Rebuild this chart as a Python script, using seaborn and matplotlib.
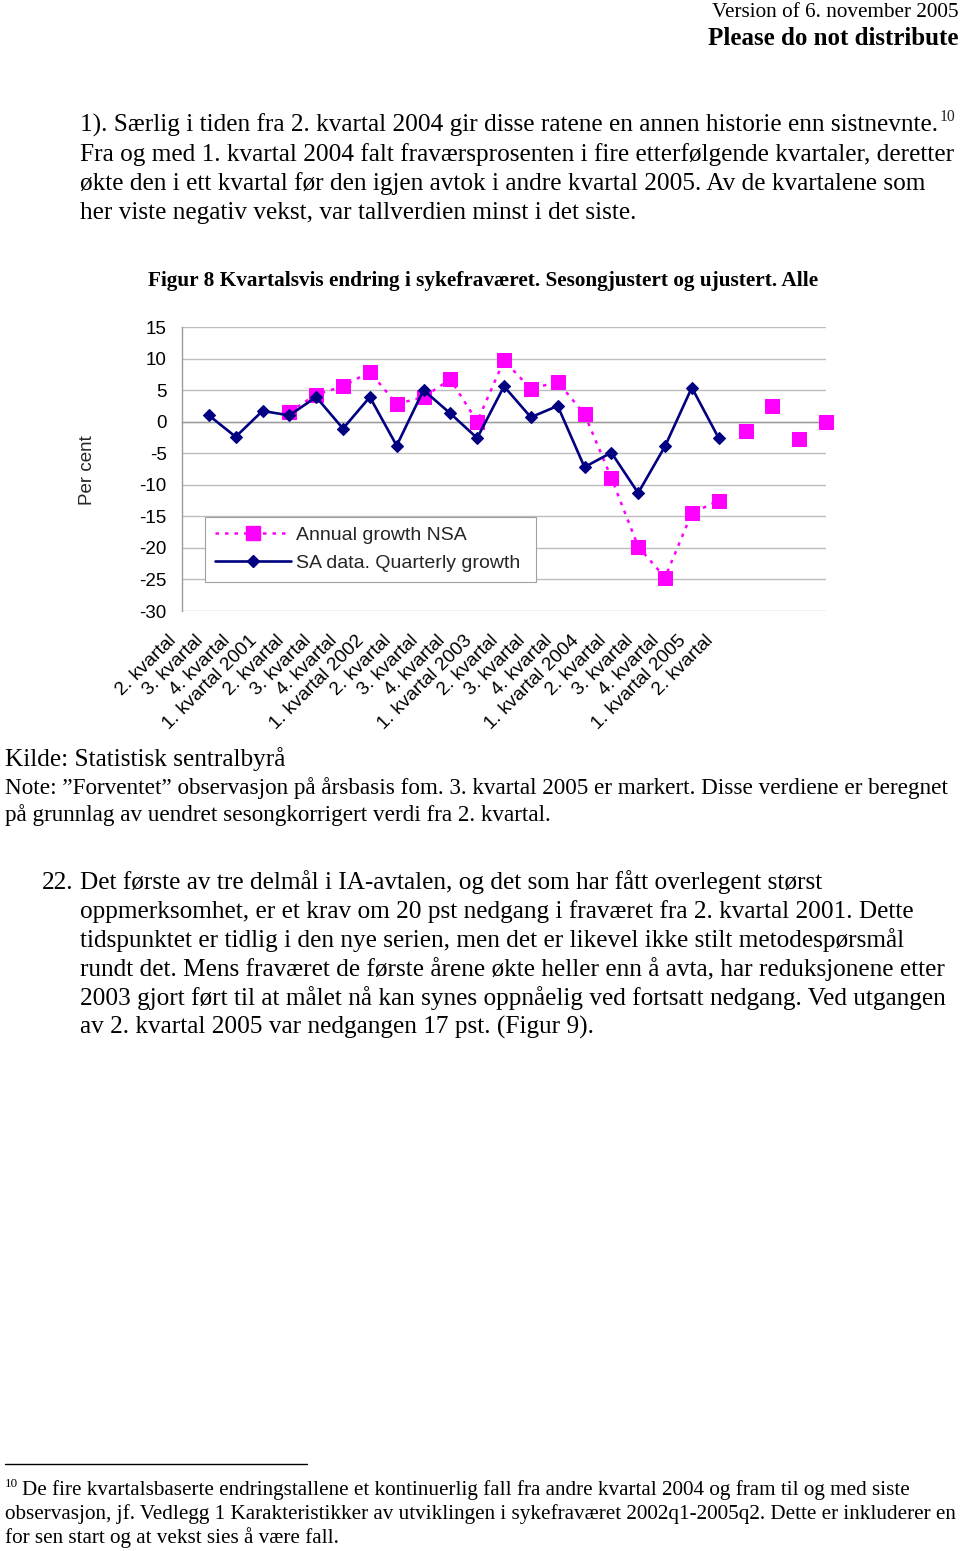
import numpy as np
import pandas as pd
import matplotlib
matplotlib.use("Agg")
import matplotlib.pyplot as plt
import matplotlib.transforms as mtransforms
from matplotlib.lines import Line2D
import seaborn as sns

# ---------------- data ----------------
category_labels = [
    "2. kvartal", "3. kvartal", "4. kvartal", "1. kvartal 2001",
    "2. kvartal", "3. kvartal", "4. kvartal", "1. kvartal 2002",
    "2. kvartal", "3. kvartal", "4. kvartal", "1. kvartal 2003",
    "2. kvartal", "3. kvartal", "4. kvartal", "1. kvartal 2004",
    "2. kvartal", "3. kvartal", "4. kvartal", "1. kvartal 2005",
    "2. kvartal", "", "", "", "",
]
sa_positions = list(range(1, 21))
sa_values = [1.0, -2.4, 1.7, 1.0, 3.9, -1.1, 3.9, -3.8, 5.0, 1.3,
             -2.6, 5.6, 0.7, 2.5, -7.2, -4.9, -11.3, -3.9, 5.4, -2.6]
nsa_positions = list(range(4, 21))
nsa_values = [1.5, 4.3, 5.6, 7.9, 2.8, 3.9, 6.7, 0.0, 9.7, 5.2,
              6.3, 1.2, -8.9, -19.8, -24.7, -14.5, -12.5]
expected_positions = [21, 22, 23, 24]
expected_values = [-1.4, 2.5, -2.7, 0.0]
y_ticks = [-30, -25, -20, -15, -10, -5, 0, 5, 10, 15]
legend_labels = ["Annual growth NSA", "SA data. Quarterly growth"]

PINK = "#FF00FF"
NAVY = "#000080"
GRID = "#BDBDBD"

# ---------------- figure ----------------
sns.set_style("white")
plt.rcParams["font.family"] = ["Liberation Serif", "DejaVu Serif"]
plt.rcParams["axes.unicode_minus"] = False
SERIF = ["Liberation Serif", "DejaVu Serif"]
SANS = ["Liberation Sans", "DejaVu Sans"]

W, H = 960, 1551
fig = plt.figure(figsize=(W / 100, H / 100), dpi=100)
fig.patch.set_facecolor("white")
renderer = fig.canvas.get_renderer()


def fit(s, target, weight="normal", family=SERIF):
    t = fig.text(0, 0, s, fontsize=10, fontweight=weight, family=family)
    w = t.get_window_extent(renderer).width
    t.remove()
    return 10 * target / w


def put(x, y, s, size, ha="left", weight="normal", family=SERIF):
    return fig.text(x / W, 1 - y / H, s, fontsize=size, ha=ha, va="baseline",
                    fontweight=weight, family=family, color="black")


# header
put(959, 17, "Version of 6. november 2005", fit("Version of 6. november 2005", 246), ha="right")
put(959, 45, "Please do not distribute",
    fit("Please do not distribute", 251, weight="bold"), ha="right", weight="bold")

body = fit("Fra og med 1. kvartal 2004 falt fraværsprosenten i fire etterfølgende kvartaler, deretter", 875)

para1 = [
    "1). Særlig i tiden fra 2. kvartal 2004 gir disse ratene en annen historie enn sistnevnte.",
    "Fra og med 1. kvartal 2004 falt fraværsprosenten i fire etterfølgende kvartaler, deretter",
    "økte den i ett kvartal før den igjen avtok i andre kvartal 2005. Av de kvartalene som",
    "her viste negativ vekst, var tallverdien minst i det siste.",
]
for i, line in enumerate(para1):
    t = put(80, 132 + 29 * i, line, body)
    if i == 0:
        x_end = t.get_window_extent(renderer).x1
        fig.text((x_end + 2) / W, 1 - 121 / H, "10", fontsize=body * 0.62,
                 va="baseline", family=SERIF)

title = "Figur 8 Kvartalsvis endring i sykefraværet. Sesongjustert og ujustert. Alle"
put(148, 286, title, fit(title, 676, weight="bold"), weight="bold")

note1 = "Note: ”Forventet” observasjon på årsbasis fom. 3. kvartal 2005 er markert. Disse verdiene er beregnet"
note_size = min(body, fit(note1, 943))
put(5, 766, "Kilde: Statistisk sentralbyrå", body)
put(5, 794, note1, note_size)
put(5, 821, "på grunnlag av uendret sesongkorrigert verdi fra 2. kvartal.", note_size)

put(42, 889, "22.", body)
para2 = [
    "Det første av tre delmål i IA-avtalen, og det som har fått overlegent størst",
    "oppmerksomhet, er et krav om 20 pst nedgang i fraværet fra 2. kvartal 2001. Dette",
    "tidspunktet er tidlig i den nye serien, men det er likevel ikke stilt metodespørsmål",
    "rundt det. Mens fraværet de første årene økte heller enn å avta, har reduksjonene etter",
    "2003 gjort ført til at målet nå kan synes oppnåelig ved fortsatt nedgang. Ved utgangen",
    "av 2. kvartal 2005 var nedgangen 17 pst. (Figur 9).",
]
for i, line in enumerate(para2):
    put(80, 889 + 29 * i, line, body)

# footnote
fig.add_artist(Line2D([5 / W, 307 / W], [1 - 1464 / H, 1 - 1464 / H], color="black", lw=1))
foot = fit("observasjon, jf. Vedlegg 1 Karakteristikker av utviklingen i sykefraværet 2002q1-2005q2. Dette er inkluderer en", 950)
put(5, 1487, "10", foot * 0.62)
put(22, 1495, "De fire kvartalsbaserte endringstallene et kontinuerlig fall fra andre kvartal 2004 og fram til og med siste", foot)
put(5, 1519, "observasjon, jf. Vedlegg 1 Karakteristikker av utviklingen i sykefraværet 2002q1-2005q2. Dette er inkluderer en", foot)
put(5, 1543, "for sen start og at vekst sies å være fall.", foot)

# ---------------- chart ----------------
ax = fig.add_axes([182 / W, 1 - 611 / H, 644 / W, 284 / H])
ax.set_facecolor("white")

df_sa = pd.DataFrame({"pos": sa_positions, "value": sa_values})
df_nsa = pd.DataFrame({"pos": nsa_positions, "value": nsa_values})
df_exp = pd.DataFrame({"pos": expected_positions, "value": expected_values})

NSA_DASH = (0, (1.4, 2.4))
sns.lineplot(data=df_nsa, x="pos", y="value", ax=ax, color=PINK, lw=1.8,
             linestyle=NSA_DASH, marker="s", markersize=9.4,
             markeredgecolor=PINK, markerfacecolor=PINK, zorder=3)
sns.lineplot(data=df_exp, x="pos", y="value", ax=ax, color=PINK, linestyle="none",
             marker="s", markersize=9.4, markeredgecolor=PINK,
             markerfacecolor=PINK, zorder=3, clip_on=False)
sns.lineplot(data=df_sa, x="pos", y="value", ax=ax, color=NAVY, lw=1.9,
             marker="D", markersize=6.6, markeredgecolor=NAVY,
             markerfacecolor=NAVY, markeredgewidth=0.8, zorder=4)

ax.set_xlim(0, len(category_labels) - 1)
ax.set_ylim(-30, 15)
ax.set_yticks(y_ticks)
ax.set_yticklabels([str(v) for v in y_ticks], family=SANS, fontsize=13.5)
ax.yaxis.grid(True, color=GRID, lw=1)
ax.xaxis.grid(False)
ax.set_axisbelow(True)
for s in ["top", "right"]:
    ax.spines[s].set_visible(False)
ax.spines["left"].set_color("#9a9a9a")
ax.spines["left"].set_linewidth(1)
ax.spines["bottom"].set_position(("data", 0))
ax.spines["bottom"].set_color("#9a9a9a")
ax.spines["bottom"].set_linewidth(1)
ax.set_xticks(range(len(category_labels)))
ax.tick_params(axis="x", direction="inout", length=6, width=0.8, color="#9a9a9a",
               labelbottom=False)
ax.tick_params(axis="y", direction="out", length=3, width=0.8, color="#9a9a9a",
               pad=8, labelcolor="black")
ax.set_xlabel("")
ax.set_ylabel("")

# rotated category labels below the plot
trans = mtransforms.blended_transform_factory(ax.transData, ax.transAxes) + \
    mtransforms.ScaledTranslation(-8 / 100, -27 / 100, fig.dpi_scale_trans)
for i, lab in enumerate(category_labels):
    if lab:
        ax.text(i, 0, lab, transform=trans, rotation=45, rotation_mode="anchor",
                ha="right", va="center", family=SANS, fontsize=13.8, color="black")

fig.text(87 / W, 1 - 470 / H, "Per cent", rotation=90, ha="center", va="center",
         family=SANS, fontsize=13.5)

handles = [
    Line2D([], [], color=PINK, lw=1.8, linestyle=NSA_DASH, marker="s",
           markersize=9.4, markeredgecolor=PINK, markerfacecolor=PINK),
    Line2D([], [], color=NAVY, lw=1.9, marker="D", markersize=6.6,
           markeredgecolor=NAVY, markerfacecolor=NAVY),
]
x0 = (205 - 182) / 644
y0 = (611 - 582) / 284
leg = ax.legend(handles, legend_labels, loc="lower left", mode="expand",
                bbox_to_anchor=(x0, y0, (536 - 205) / 644, (582 - 518) / 284),
                borderaxespad=0, frameon=True, fancybox=False, framealpha=1,
                edgecolor="#a0a0a0", handlelength=3.9, handletextpad=0.3,
                labelspacing=0.55, borderpad=0.5,
                prop={"family": SANS, "size": 14})
leg.get_frame().set_linewidth(0.8)

fig.savefig("out.png", dpi=100, facecolor="white")
